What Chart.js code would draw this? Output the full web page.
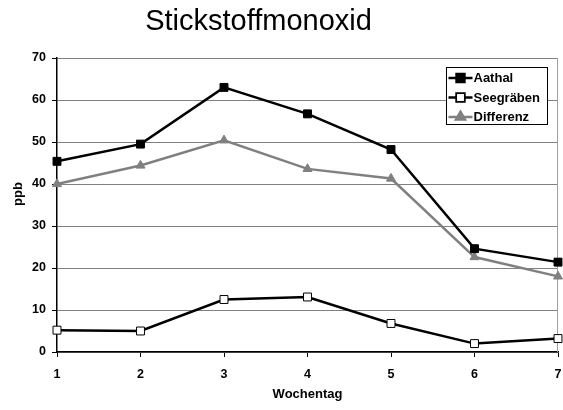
<!DOCTYPE html>
<html>
<head>
<meta charset="utf-8">
<script src="https://cdn.jsdelivr.net/npm/chart.js@4/dist/chart.umd.min.js"></script>
<style>
  html, body { margin: 0; padding: 0; background: #fff; }
  #wrap { width: 563px; height: 410px; position: relative; }
</style>
</head>
<body>
<div id="wrap"><canvas id="c" width="563" height="410"></canvas></div>
<script>
// Stickstoffmonoxid (NO) im Wochenverlauf, ppb
const days = ['1', '2', '3', '4', '5', '6', '7'];
const aathal = [45.4, 49.5, 63.0, 56.7, 48.2, 24.6, 21.4];
const seegraeben = [5.2, 5.0, 12.5, 13.1, 6.8, 2.0, 3.2];
const differenz = [40.0, 44.4, 50.4, 43.6, 41.3, 22.6, 18.0];
const yTicks = [0, 10, 20, 30, 40, 50, 60, 70];

const FONT = "'Liberation Sans', Arial, sans-serif";
const GRAY = '#808080';

// Title, y-axis caption, right frame edge and boxed legend
const decorations = {
  id: 'decorations',
  beforeDatasetsDraw(chart) {
    const { ctx, chartArea: a } = chart;
    ctx.save();
    ctx.strokeStyle = '#a0a0a0';
    ctx.lineWidth = 1;
    ctx.beginPath();
    ctx.moveTo(Math.round(a.right) - 0.5, a.top);
    ctx.lineTo(Math.round(a.right) - 0.5, a.bottom);
    ctx.stroke();
    ctx.restore();
  },
  afterDraw(chart) {
    const { ctx, chartArea: a } = chart;
    ctx.save();
    // title
    ctx.fillStyle = '#000';
    ctx.font = '29px ' + FONT;
    ctx.textAlign = 'center';
    ctx.textBaseline = 'alphabetic';
    ctx.fillText('Stickstoffmonoxid', 258.5, 29.5);

    // y-axis caption
    ctx.save();
    ctx.translate(18.5, 194);
    ctx.rotate(-Math.PI / 2);
    ctx.font = 'bold 13px ' + FONT;
    ctx.textBaseline = 'middle';
    ctx.fillText('ppb', 0, 0);
    ctx.restore();

    // legend box
    const bx = a.right - 111.5, by = a.top + 9.5, bw = 101, bh = 57;
    ctx.fillStyle = '#fff';
    ctx.fillRect(bx, by, bw, bh);
    ctx.strokeStyle = '#000';
    ctx.lineWidth = 1;
    ctx.strokeRect(bx, by, bw, bh);
    ctx.font = 'bold 13px ' + FONT;
    ctx.textAlign = 'left';
    ctx.textBaseline = 'middle';
    chart.data.datasets.forEach((ds, i) => {
      const y = by + 10.5 + i * 19.5;
      const x0 = bx + 2, x1 = bx + 26, xm = (x0 + x1) / 2;
      ctx.strokeStyle = ds.borderColor;
      ctx.lineWidth = 2.5;
      ctx.beginPath();
      ctx.moveTo(x0, y);
      ctx.lineTo(x1, y);
      ctx.stroke();
      Chart.helpers.drawPoint(ctx, {
        pointStyle: ds.pointStyle,
        radius: ds.pointRadius,
        borderWidth: ds.pointBorderWidth,
        rotation: 0
      }, xm, y);
      ctx.fillStyle = ds.pointBackgroundColor;
      ctx.strokeStyle = ds.pointBorderColor;
      ctx.lineWidth = ds.pointBorderWidth;
      ctx.fill();
      ctx.stroke();
      ctx.fillStyle = '#000';
      ctx.fillText(ds.label, x1 + 1, y + 0.5);
    });
    ctx.restore();
  }
};

new Chart(document.getElementById('c'), {
  type: 'line',
  data: {
    labels: days,
    datasets: [
      {
        label: 'Aathal', data: aathal,
        borderColor: '#000', borderWidth: 2.5,
        pointStyle: 'rect', pointRadius: 5.6,
        pointBackgroundColor: '#000', pointBorderColor: '#000', pointBorderWidth: 1,
        tension: 0, clip: false
      },
      {
        label: 'Seegräben', data: seegraeben,
        borderColor: '#000', borderWidth: 2.5,
        pointStyle: 'rect', pointRadius: 5.6,
        pointBackgroundColor: '#fff', pointBorderColor: '#000', pointBorderWidth: 1,
        tension: 0, clip: false
      },
      {
        label: 'Differenz', data: differenz,
        borderColor: GRAY, borderWidth: 2.5,
        pointStyle: 'triangle', pointRadius: 5.2,
        pointBackgroundColor: GRAY, pointBorderColor: GRAY, pointBorderWidth: 1,
        tension: 0, clip: false
      }
    ]
  },
  options: {
    responsive: false,
    animation: false,
    layout: { autoPadding: false, padding: { top: 58, right: 5, bottom: 0, left: 0 } },
    plugins: {
      legend: { display: false },
      title: { display: false },
      tooltip: { enabled: false }
    },
    scales: {
      x: {
        type: 'category',
        offset: false,
        grid: { drawOnChartArea: false, drawTicks: true, tickLength: 5, tickColor: '#000' },
        border: { color: '#000', width: 1.5 },
        ticks: { color: '#000', font: { family: FONT, size: 12.5, weight: 'bold' }, padding: 10, maxRotation: 0 },
        title: { display: true, text: 'Wochentag', color: '#000', font: { family: FONT, size: 13, weight: 'bold' }, padding: { top: 0, bottom: 8 } },
        afterFit(scale) {
          scale.height = 58;
          scale.paddingLeft = 0;
          scale.paddingRight = 0;
        }
      },
      y: {
        min: 0, max: 70,
        afterBuildTicks(scale) { scale.ticks = yTicks.map(v => ({ value: v })); },
        grid: { color: GRAY, lineWidth: 1, tickLength: 5, tickColor: '#000' },
        border: { color: '#000', width: 1.5 },
        ticks: { color: '#000', font: { family: FONT, size: 12.5, weight: 'bold' }, padding: 6 },
        afterFit(scale) { scale.width = 57; }
      }
    }
  },
  plugins: [decorations]
});
</script>
</body>
</html>
